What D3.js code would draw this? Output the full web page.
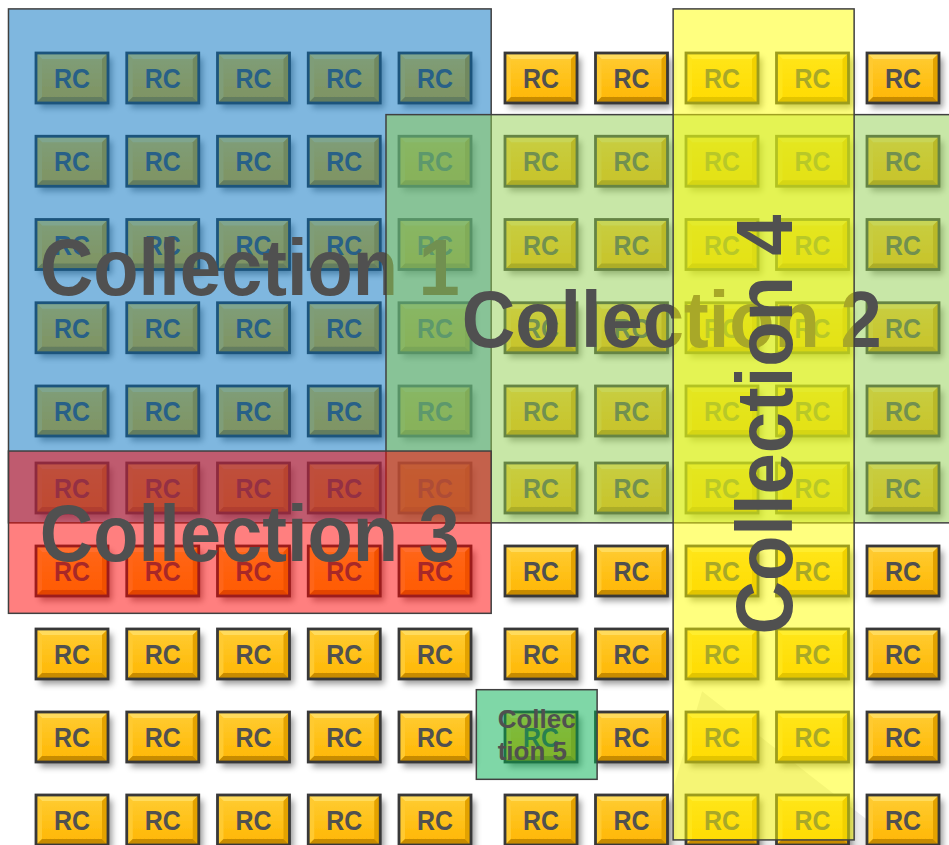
<!DOCTYPE html>
<html>
<head>
<meta charset="utf-8">
<script src="https://cdn.jsdelivr.net/npm/d3@7"></script>
<style>
  body { margin: 0; background: #fff; }
  svg { display: block; font-family: "Liberation Sans", Arial, sans-serif; }
</style>
</head>
<body>
<svg id="grid" width="949" height="845"></svg>
<script>
// grid of cells (column / row index)
const columns = d3.range(10);
const rows = d3.range(10);
const cellLabel = "RC";

// collections: extents in grid units (column index / row index)
const collectionNames = ["Collection 1", "Collection 2", "Collection 3", "Collection 4", "Collection 5"];
const collectionLabels = [["Collection 1"], ["Collection 2"], ["Collection 3"], ["Collection 4"], ["Collec", "tion 5"]];
const collectionCols = [[-0.7, 4.53], [3.46, 9.6], [-0.7, 4.53], [6.46, 8.46], [4.39, 5.62]];
const collectionRows = [[-0.83, 5.42], [0.44, 5.42], [4.52, 6.51], [-0.83, 9.24], [7.43, 8.51]];

// faint backdrop shape, grid units
const backdrop = [[6.78, 7.45], [6.26, 9.35], [9.02, 9.35]];

const svg = d3.select("#grid");

// the two blocks of five columns (and rows) are spaced a little differently
const x = d3.scaleLinear().domain([0, 4, 5, 9]).range([72, 435, 541, 903]);
const y = d3.scaleLinear().domain([0, 4, 5, 9]).range([78, 411, 488, 820]);

const color = d3.scaleOrdinal()
  .domain(collectionNames)
  .range(["#0070c0", "#92d050", "#ff0000", "#ffff00", "#00b050"]);

const defs = svg.append("defs");
defs.append("filter")
  .attr("id", "btnShadow")
  .attr("x", "-30%").attr("y", "-30%")
  .attr("width", "170%").attr("height", "170%")
  .append("feDropShadow")
  .attr("dx", 4).attr("dy", 5)
  .attr("stdDeviation", 3)
  .attr("flood-color", "#000")
  .attr("flood-opacity", 0.4);

const face = defs.append("linearGradient")
  .attr("id", "btnFace")
  .attr("x1", 0).attr("y1", 0).attr("x2", 0).attr("y2", 1);
face.append("stop").attr("offset", "0%").attr("stop-color", "#ffcd35");
face.append("stop").attr("offset", "100%").attr("stop-color", "#ffb600");

// backdrop
svg.append("polygon")
  .attr("points", backdrop.map(p => [x(p[0]), y(p[1])]).join(" "))
  .attr("fill", "#ebebeb");

// buttons
const bw = 72, bh = 50, bev = 6;
const hw = bw / 2, hh = bh / 2;
const bevels = [
  { pts: [[-hw, -hh], [hw, -hh], [hw - bev, -hh + bev], [-hw + bev, -hh + bev]], fill: "#ffdb5c" },
  { pts: [[-hw, -hh], [-hw + bev, -hh + bev], [-hw + bev, hh - bev], [-hw, hh]], fill: "#ffca30" },
  { pts: [[hw, -hh], [hw, hh], [hw - bev, hh - bev], [hw - bev, -hh + bev]], fill: "#e3a200" },
  { pts: [[-hw, hh], [hw, hh], [hw - bev, hh - bev], [-hw + bev, hh - bev]], fill: "#c78b00" }
];

const cells = rows.flatMap(r => columns.map(c => ({ r, c })));

const btn = svg.append("g")
  .selectAll("g")
  .data(cells)
  .join("g")
  .attr("transform", d => `translate(${x(d.c)},${y(d.r)})`);

btn.append("rect")
  .attr("x", -hw).attr("y", -hh)
  .attr("width", bw).attr("height", bh)
  .attr("fill", "url(#btnFace)")
  .attr("filter", "url(#btnShadow)");

btn.selectAll("polygon")
  .data(bevels)
  .join("polygon")
  .attr("points", d => d.pts.join(" "))
  .attr("fill", d => d.fill);

btn.append("rect")
  .attr("x", -hw).attr("y", -hh)
  .attr("width", bw).attr("height", bh)
  .attr("fill", "none")
  .attr("stroke", "#383838")
  .attr("stroke-width", 2.8);

btn.append("text")
  .attr("y", 10)
  .attr("text-anchor", "middle")
  .attr("font-size", 28)
  .attr("font-weight", "bold")
  .attr("fill", "#505050")
  .attr("textLength", 36)
  .attr("lengthAdjust", "spacingAndGlyphs")
  .text(cellLabel);

// collections, each rect followed by its label
collectionNames.forEach((name, i) => {
  const [c0, c1] = collectionCols[i];
  const [r0, r1] = collectionRows[i];
  const x0 = x(c0), x1 = x(c1), y0 = y(r0), y1 = y(r1);
  const w = x1 - x0, h = y1 - y0;
  const cx = (x0 + x1) / 2, cy = (y0 + y1) / 2;

  const g = svg.append("g");
  g.append("rect")
    .attr("x", x0).attr("y", y0)
    .attr("width", w).attr("height", h)
    .attr("fill", color(name))
    .attr("fill-opacity", 0.5)
    .attr("stroke", "#404040")
    .attr("stroke-width", 1.5);

  const lines = collectionLabels[i];
  const small = Math.max(w, h) < 200;
  const fs = small ? 26 : 80;
  const cap = fs * 0.716;

  if (small) {
    const t = g.append("text")
      .attr("font-size", fs)
      .attr("font-weight", "bold")
      .attr("fill", "#505050");
    const lh = 32;
    lines.forEach((ln, k) => {
      t.append("tspan")
        .attr("y", cy + (k - (lines.length - 1) / 2) * lh + cap / 2)
        .text(ln);
    });
    const widest = d3.max(t.selectAll("tspan").nodes(), n => n.getComputedTextLength());
    t.selectAll("tspan").attr("x", cx - widest / 2);
  } else {
    const vertical = h > 2 * w;
    g.append("text")
      .attr("x", cx)
      .attr("y", cy + cap / 2)
      .attr("text-anchor", "middle")
      .attr("font-size", fs)
      .attr("font-weight", "bold")
      .attr("fill", "#505050")
      .attr("textLength", 420)
      .attr("lengthAdjust", "spacingAndGlyphs")
      .attr("transform", vertical ? `rotate(-90,${cx},${cy})` : null)
      .text(lines[0]);
  }
});
</script>
</body>
</html>
